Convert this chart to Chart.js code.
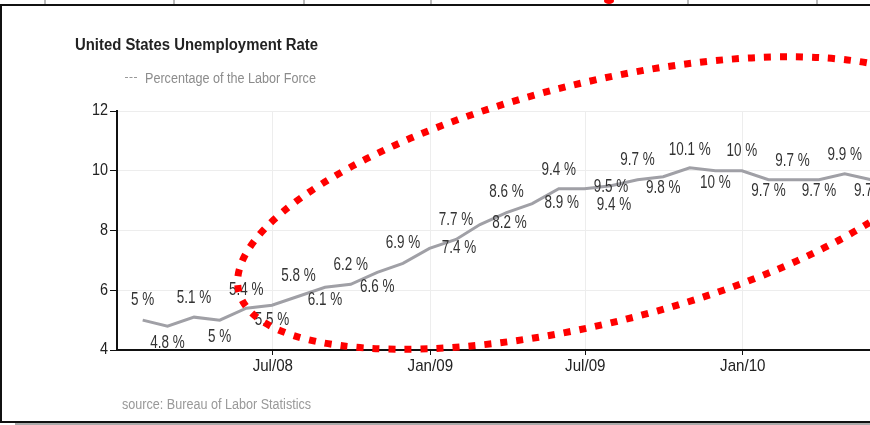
<!DOCTYPE html>
<html>
<head>
<meta charset="utf-8">
<script src="https://cdn.jsdelivr.net/npm/chart.js@4.4.1/dist/chart.umd.min.js"></script>
<style>
html,body{margin:0;padding:0;background:#fff;}
#wrap{position:relative;width:870px;height:425px;overflow:hidden;background:#fff;}
#cv{position:absolute;left:0;top:0;width:960px;height:425px;}
.t{position:absolute;font-family:'Liberation Sans',Arial,sans-serif;white-space:pre;transform-origin:0 50%;}
.fr{position:absolute;}
</style>
</head>
<body>
<div id="wrap">
  <canvas id="cv" width="960" height="425"></canvas>
  <div class="t" style="left:75px;top:35px;line-height:20px;font-size:16px;font-weight:bold;color:#222;transform:scaleX(0.93);">United States Unemployment Rate</div>
  <div class="fr" style="left:125px;top:77px;width:12px;height:0;border-top:1px dashed #999;"></div>
  <div class="t" style="left:145px;top:68px;line-height:20px;font-size:14px;color:#8c8c8c;transform:scaleX(0.9);">Percentage of the Labor Force</div>
  <div class="t" style="left:122px;top:394px;line-height:20px;font-size:14px;color:#999;transform:scaleX(0.9);">source: Bureau of Labor Statistics</div>
  <!-- frame -->
  <div class="fr" style="left:0;top:4px;width:870px;height:2px;background:#111;"></div>
  <div class="fr" style="left:0;top:4px;width:2px;height:419px;background:#111;"></div>
  <div class="fr" style="left:0;top:421px;width:870px;height:2px;background:#111;"></div>
  <div class="fr" style="left:15px;top:423px;width:855px;height:2px;background:#aaa;"></div>
  <div class="fr" style="left:44px;top:0;width:2px;height:4px;background:#bbb;"></div>
  <div class="fr" style="left:173px;top:0;width:2px;height:4px;background:#bbb;"></div>
  <div class="fr" style="left:303px;top:0;width:2px;height:4px;background:#bbb;"></div>
  <div class="fr" style="left:430px;top:0;width:2px;height:4px;background:#bbb;"></div>
  <div class="fr" style="left:687px;top:0;width:2px;height:4px;background:#bbb;"></div>
  <div class="fr" style="left:816px;top:0;width:2px;height:4px;background:#bbb;"></div>
  <div class="fr" style="left:604px;top:-2px;width:10px;height:6px;border-radius:50%;background:#f00;"></div>
</div>
<script>
// ---- data ----
const months = ['2008-01','2008-02','2008-03','2008-04','2008-05','2008-06','2008-07','2008-08','2008-09','2008-10','2008-11','2008-12',
                '2009-01','2009-02','2009-03','2009-04','2009-05','2009-06','2009-07','2009-08','2009-09','2009-10','2009-11','2009-12',
                '2010-01','2010-02','2010-03','2010-04','2010-05'];
const rates = [5.0,4.8,5.1,5.0,5.4,5.5,5.8,6.1,6.2,6.6,6.9,7.4,
               7.7,8.2,8.6,8.9,9.4,9.4,9.5,9.7,9.8,10.1,10.0,10.0,
               9.7,9.7,9.7,9.9,9.7];
const tickDates = ['2008-07-01','2009-01-01','2009-07-01','2010-01-01','2010-07-01'];
const tickLabels = ['Jul/08','Jan/09','Jul/09','Jan/10','Jul/10'];
const yTicks = [4,6,8,10,12];

// ---- label placement (style) ----
const labelDy =    [-20,17,-19,17,-18,15,-20,13,-19,15,-20,0,-19,-1,-20,0,-19,16,1,-20,11,-18,12,-20,11,-19,11,-19,11];
const labelShift = [0,0,0,0,0,0,0,0,0,0,0,1,0,1,0,1,0,1,0,0,0,0,0,0,0,0,0,0,0];

const DAY = 86400000;
const origin = Date.UTC(2008,0,1);
function monthEndDay(s){const [y,m]=s.split('-').map(Number);return (Date.UTC(y,m,0)-origin)/DAY;}
function dateDay(s){const [y,m,d]=s.split('-').map(Number);return (Date.UTC(y,m-1,d)-origin)/DAY;}
const points = months.map((m,i)=>({x:monthEndDay(m), y:rates[i]}));
const tickDays = tickDates.map(dateDay);

const FONT = "'Liberation Sans',Arial,sans-serif";

function drawScaled(ctx, text, x, y, align, sx){
  ctx.save();
  ctx.translate(x, y);
  ctx.scale(sx, 1);
  ctx.textAlign = align;
  ctx.fillText(text, 0, 0);
  ctx.restore();
}

const tickLabelPlugin = {
  id:'tickLabels',
  afterDraw(chart){
    const ctx = chart.ctx, xs = chart.scales.x, ys = chart.scales.y;
    ctx.save();
    ctx.fillStyle = '#222';
    ctx.textBaseline = 'middle';
    ctx.font = '17px ' + FONT;
    tickDays.forEach((d,k)=>{
      drawScaled(ctx, tickLabels[k], xs.getPixelForValue(d), ys.bottom + 16.5, 'center', 0.89);
    });
    ctx.font = '16px ' + FONT;
    yTicks.forEach(v=>{
      drawScaled(ctx, String(v), ys.left + ys.width - 9, ys.getPixelForValue(v), 'right', 0.9);
    });
    ctx.restore();
  }
};

const labelPlugin = {
  id:'valueLabels',
  afterDatasetsDraw(chart){
    const meta = chart.getDatasetMeta(0);
    const ctx = chart.ctx;
    ctx.save();
    ctx.font = '17.5px ' + FONT;
    ctx.fillStyle = '#333';
    ctx.textBaseline = 'middle';
    rates.forEach((v,i)=>{
      const a = meta.data[Math.min(i+labelShift[i], rates.length-1)];
      const x = a.x + (labelShift[i] ? 3 : 0);
      const y = meta.data[i].y + labelDy[i];
      drawScaled(ctx, v + ' %', x, y, 'center', 0.77);
    });
    ctx.restore();
  }
};

const ellipsePlugin = {
  id:'redEllipse',
  afterDraw(chart){
    const ctx = chart.ctx;
    ctx.save();
    ctx.strokeStyle = '#ff0000';
    ctx.lineWidth = 7;
    ctx.setLineDash([7,9]);
    ctx.beginPath();
    ctx.ellipse(596,203,368,120,-13.9*Math.PI/180,0,Math.PI*2);
    ctx.stroke();
    ctx.restore();
  }
};

new Chart(document.getElementById('cv'), {
  type:'line',
  data:{datasets:[{
    label:'Percentage of the Labor Force',
    data:points,
    borderColor:'#a0a0a6',
    borderWidth:3,
    pointRadius:0,
    tension:0,
    fill:false
  }]},
  options:{
    responsive:false,
    animation:false,
    devicePixelRatio:1,
    layout:{padding:{left:0,top:111,right:10,bottom:35}},
    plugins:{legend:{display:false},title:{display:false},tooltip:{enabled:false}},
    scales:{
      x:{
        type:'linear', min:0, max:973,
        afterBuildTicks(s){ s.ticks = tickDays.map(v=>({value:v})); },
        afterFit(s){ s.height = 40; },
        ticks:{display:false},
        grid:{color:'#ededed', lineWidth:1, tickColor:'#111', tickLength:5, drawTicks:true},
        border:{color:'#111', width:2}
      },
      y:{
        min:4, max:12,
        afterBuildTicks(s){ s.ticks = yTicks.map(v=>({value:v})); },
        afterFit(s){ s.width = 117; },
        ticks:{display:false},
        grid:{color:'#ededed', lineWidth:1, tickColor:'#111', tickLength:7, drawTicks:true},
        border:{color:'#111', width:2}
      }
    }
  },
  plugins:[labelPlugin, tickLabelPlugin, ellipsePlugin]
});
</script>
</body>
</html>
